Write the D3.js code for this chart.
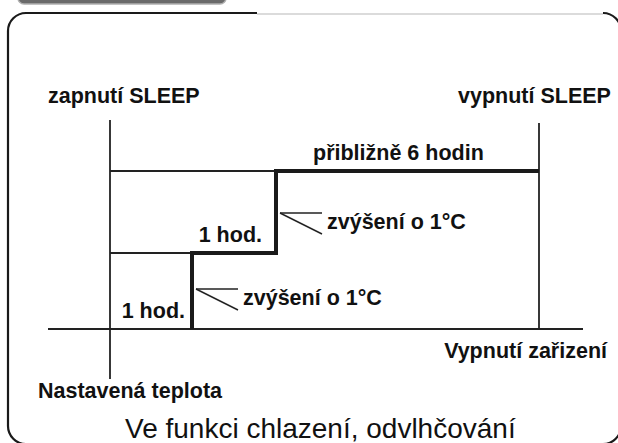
<!DOCTYPE html>
<html>
<head>
<meta charset="utf-8">
<script src="https://cdn.jsdelivr.net/npm/d3@7"></script>
<style>
  body { margin: 0; background: #fff; }
  text { font-family: "Liberation Sans", Arial, sans-serif; fill: #111; }
  .b { font-weight: bold; font-size: 21.5px; }
</style>
</head>
<body>
<div id="chart"></div>
<script>
// časové body (hodiny od zapnutí SLEEP) a zvýšení teploty (°C)
const hourMarks = [0, 1, 2, 6];
const tempSteps = [0, 1, 2];
// průběh teploty: od hodiny h je teplota o t °C vyšší
const profile = [
  { h: 1, t: 0 },
  { h: 2, t: 1 },
  { h: 6, t: 2 }
];
// kroky, kde se teplota zvýší
const raises = [
  { h: 1, t: 1 },
  { h: 2, t: 2 }
];
const hourLabels = [
  { h: 1, t: 0, text: "1 hod." },
  { h: 2, t: 1, text: "1 hod." }
];
const raiseText = "zvýšení o 1°C";
const totalText = "přibližně 6 hodin";
const startText = "zapnutí SLEEP";
const endText = "vypnutí SLEEP";
const offText = "Vypnutí zařizení";
const baseText = "Nastavená teplota";
const title = "Ve funkci chlazení, odvlhčování";

const width = 618, height = 443;

const svg = d3.select("#chart")
  .append("svg")
  .attr("width", width)
  .attr("height", height);

// schéma není v měřítku, proto po částech lineární škály
const x = d3.scaleLinear().domain(hourMarks).range([110, 192, 276, 539]);
const y = d3.scaleLinear().domain(tempSteps).range([329, 253, 171]);

// horní záložka předchozího rámečku
svg.append("rect")
  .attr("x", 18).attr("y", -12)
  .attr("width", 208).attr("height", 16)
  .attr("rx", 6)
  .attr("fill", "#6a6a6a")
  .attr("stroke", "#b0b0b0")
  .attr("stroke-width", 1.5);

// rámeček
const fx0 = 8, fy0 = 13, fx1 = 621, fy1 = 444, r = 18;
const frame = d3.path();
frame.moveTo(257, fy0);
frame.lineTo(fx0 + r, fy0);
frame.arcTo(fx0, fy0, fx0, fy0 + r, r);
frame.lineTo(fx0, fy1 - r);
frame.arcTo(fx0, fy1, fx0 + r, fy1, r);
frame.lineTo(fx1 - r, fy1);
frame.arcTo(fx1, fy1, fx1, fy1 - r, r);
frame.lineTo(fx1, fy0 + r);
frame.arcTo(fx1, fy0, fx1 - r, fy0, r);
svg.append("path")
  .attr("d", frame.toString())
  .attr("fill", "none")
  .attr("stroke", "#1a1a1a")
  .attr("stroke-width", 2.2);
svg.append("line")
  .attr("x1", 257).attr("x2", fx1 - r)
  .attr("y1", fy0 + 1).attr("y2", fy0 + 1)
  .attr("stroke", "#cfcfcf")
  .attr("stroke-width", 1.5);

const g = svg.append("g")
  .attr("stroke", "#222")
  .attr("stroke-width", 1.8);

// osy
g.append("line")
  .attr("x1", x(0) - 62).attr("x2", x(6) + 44)
  .attr("y1", y(0)).attr("y2", y(0));
g.append("line")
  .attr("x1", x(0)).attr("x2", x(0))
  .attr("y1", y(2) - 51).attr("y2", y(0) + 50);
g.append("line")
  .attr("x1", x(6)).attr("x2", x(6))
  .attr("y1", y(2) - 48).attr("y2", y(0));

// tenké vodorovné čáry úrovní
g.selectAll(".level")
  .data(raises)
  .enter()
  .append("line")
  .attr("x1", x(0))
  .attr("x2", d => x(d.h))
  .attr("y1", d => y(d.t))
  .attr("y2", d => y(d.t));

// průběh teploty
const line = d3.line()
  .x(d => x(d.h))
  .y(d => y(d.t))
  .curve(d3.curveStepBefore);
svg.append("path")
  .datum(profile)
  .attr("d", line)
  .attr("fill", "none")
  .attr("stroke", "#1a1a1a")
  .attr("stroke-width", 4)
  .attr("stroke-linejoin", "miter");

// značky zvýšení
const ty = d => y(d.t - 1) - 40;
const marks = svg.append("g")
  .attr("stroke", "#222")
  .attr("stroke-width", 1.5);
marks.selectAll(".hz")
  .data(raises)
  .enter()
  .append("line")
  .attr("x1", d => x(d.h) + 4)
  .attr("x2", d => x(d.h) + 46)
  .attr("y1", ty)
  .attr("y2", ty);
marks.selectAll(".dg")
  .data(raises)
  .enter()
  .append("line")
  .attr("x1", d => x(d.h) + 4)
  .attr("x2", d => x(d.h) + 46)
  .attr("y1", ty)
  .attr("y2", d => ty(d) + 21);

svg.selectAll(".raise")
  .data(raises)
  .enter()
  .append("text")
  .attr("class", "b")
  .attr("x", d => x(d.h) + 51)
  .attr("y", d => ty(d) + 16)
  .text(raiseText);

svg.selectAll(".hod")
  .data(hourLabels)
  .enter()
  .append("text")
  .attr("class", "b")
  .attr("text-anchor", "end")
  .attr("x", d => x(d.h) - (d.h === 1 ? 7 : 14))
  .attr("y", d => y(d.t) - 11)
  .text(d => d.text);

// popisky
svg.append("text").attr("class", "b")
  .attr("x", x(0) - 62).attr("y", 103).text(startText);
svg.append("text").attr("class", "b")
  .attr("x", x(6) - 81).attr("y", 103).text(endText);
svg.append("text").attr("class", "b")
  .attr("x", x(2) + 37).attr("y", y(2) - 11).text(totalText);
svg.append("text").attr("class", "b")
  .attr("x", x(6) + 68).attr("y", y(0) + 29)
  .attr("text-anchor", "end").text(offText);
svg.append("text").attr("class", "b")
  .attr("x", x(0) - 72).attr("y", y(0) + 69).text(baseText);

svg.append("text")
  .attr("x", 125).attr("y", 438)
  .style("font-size", "28px")
  .text(title);
</script>
</body>
</html>
